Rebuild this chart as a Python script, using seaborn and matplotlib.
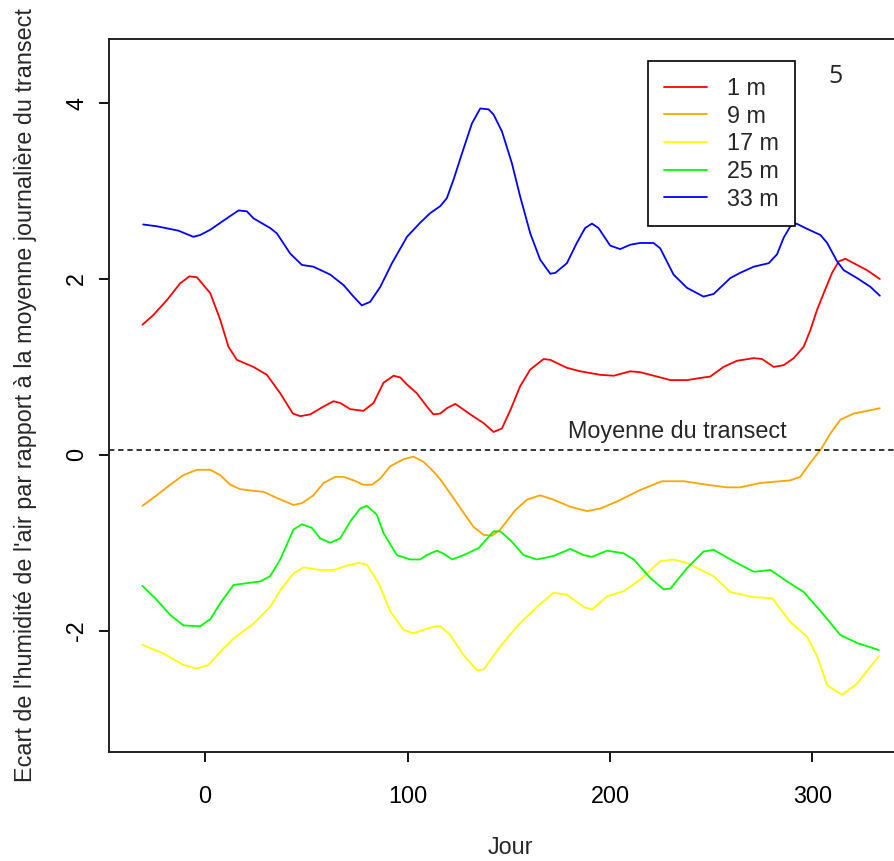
import matplotlib
matplotlib.use("Agg")
import matplotlib.pyplot as plt
import seaborn as sns
import pandas as pd

# ---- data ----
day_1m = [-31.0, -25.6, -18.9, -12.4, -7.8, -4.1, 2.5, 7.4, 11.5, 15.7, 23.9, 30.5, 37.1, 43.3, 47.0,
          51.9, 58.5, 63.4, 66.7, 71.7, 78.2, 83.2, 88.1, 93.1, 96.4, 99.7, 104.6, 109.5, 112.8, 116.1,
          119.4, 123.6, 131.0, 137.6, 142.5, 146.6, 150.8, 155.6, 160.6, 167.2, 170.5, 178.7, 185.4,
          195.3, 201.8, 210.0, 214.9, 223.3, 229.9, 238.0, 246.2, 249.5, 256.1, 262.7, 271.0, 275.1,
          280.9, 285.8, 290.8, 295.7, 299.0, 302.3, 305.6, 309.7, 313.0, 316.3, 320.4, 327.0, 333.3]
val_1m = [1.48, 1.59, 1.76, 1.95, 2.03, 2.02, 1.84, 1.54, 1.23, 1.08, 1.00, 0.91, 0.70, 0.47, 0.44,
          0.46, 0.55, 0.61, 0.59, 0.52, 0.50, 0.59, 0.82, 0.90, 0.88, 0.80, 0.70, 0.55, 0.46, 0.47,
          0.53, 0.58, 0.46, 0.36, 0.26, 0.30, 0.51, 0.78, 0.97, 1.09, 1.08, 0.99, 0.95,
          0.91, 0.90, 0.95, 0.94, 0.89, 0.85, 0.85, 0.88, 0.89, 1.00, 1.07, 1.10, 1.09,
          1.00, 1.02, 1.10, 1.23, 1.42, 1.65, 1.84, 2.07, 2.20, 2.23, 2.18, 2.10, 2.00]

day_9m = [-31.0, -23.9, -17.3, -10.7, -4.1, 2.5, 7.4, 12.4, 17.3, 23.9, 28.8, 35.4, 43.6, 47.8, 53.5,
          58.5, 64.3, 68.4, 73.3, 78.2, 82.4, 86.5, 91.4, 98.0, 102.9, 107.9, 112.8, 116.2, 121.1,
          127.7, 132.6, 137.6, 141.7, 145.8, 153.2, 159.0, 165.5, 172.1, 180.4, 188.6, 195.3, 203.5,
          214.9, 225.7, 236.4, 247.9, 257.8, 264.3, 274.2, 289.1, 294.0, 299.0, 304.4, 308.5, 313.8,
          320.4, 327.0, 333.3]
val_9m = [-0.58, -0.46, -0.34, -0.23, -0.17, -0.17, -0.23, -0.34, -0.39, -0.41, -0.42, -0.49, -0.57,
          -0.55, -0.46, -0.32, -0.25, -0.25, -0.29, -0.34, -0.34, -0.27, -0.13, -0.05, -0.02, -0.08,
          -0.19, -0.28, -0.44, -0.66, -0.82, -0.91, -0.92, -0.85, -0.63, -0.51, -0.46, -0.51, -0.59,
          -0.64, -0.61, -0.53, -0.40, -0.30, -0.30, -0.34, -0.37, -0.37, -0.32, -0.29, -0.25, -0.09,
          0.07, 0.23, 0.40, 0.47, 0.50, 0.53]

day_17m = [-31.0, -20.6, -10.7, -4.1, 1.6, 7.4, 14.0, 23.9, 32.1, 37.1, 43.6, 48.6, 56.8, 63.4, 70.0,
           75.8, 79.9, 85.7, 91.4, 98.0, 102.9, 107.9, 113.6, 116.2, 121.1, 127.7, 134.3, 137.6, 145.8,
           154.1, 163.9, 172.1, 178.7, 187.0, 191.1, 198.5, 206.8, 214.9, 224.8, 231.4, 238.0, 251.2,
           259.4, 271.0, 280.1, 289.1, 297.4, 302.3, 307.3, 314.7, 322.1, 332.8]
val_17m = [-2.16, -2.26, -2.39, -2.43, -2.39, -2.24, -2.09, -1.92, -1.73, -1.54, -1.35, -1.28, -1.31,
           -1.31, -1.26, -1.23, -1.25, -1.46, -1.78, -1.99, -2.03, -1.99, -1.95, -1.95, -2.05, -2.28,
           -2.45, -2.44, -2.18, -1.95, -1.73, -1.57, -1.59, -1.73, -1.76, -1.61, -1.55, -1.42, -1.21,
           -1.19, -1.23, -1.38, -1.56, -1.62, -1.63, -1.90, -2.07, -2.29, -2.62, -2.73, -2.60, -2.29]

day_25m = [-31.0, -23.9, -17.3, -10.7, -2.5, 2.5, 7.4, 14.0, 20.6, 27.2, 32.1, 37.1, 43.6, 47.8, 52.7,
           56.8, 61.8, 66.7, 71.6, 76.6, 79.9, 84.8, 88.1, 94.7, 101.3, 106.2, 109.5, 114.4, 117.5,
           122.0, 127.7, 135.1, 142.5, 145.8, 150.8, 157.3, 163.9, 172.1, 180.4, 187.0, 191.1, 198.5,
           206.8, 211.7, 219.9, 226.5, 229.9, 238.0, 246.2, 251.2, 261.1, 271.0, 279.3, 287.5, 295.7,
           305.6, 313.8, 322.1, 332.8]
val_25m = [-1.49, -1.65, -1.82, -1.94, -1.95, -1.87, -1.69, -1.48, -1.46, -1.44, -1.38, -1.19, -0.85,
           -0.79, -0.83, -0.95, -1.00, -0.95, -0.76, -0.61, -0.58, -0.68, -0.89, -1.14, -1.19, -1.19,
           -1.14, -1.09, -1.12, -1.19, -1.14, -1.06, -0.87, -0.87, -0.97, -1.14, -1.19, -1.15, -1.07,
           -1.14, -1.16, -1.09, -1.12, -1.19, -1.40, -1.53, -1.52, -1.29, -1.10, -1.08, -1.21, -1.33,
           -1.31, -1.44, -1.56, -1.82, -2.05, -2.14, -2.22]

day_33m = [-30.6, -23.9, -13.2, -5.8, -2.5, 2.5, 10.7, 16.5, 20.6, 23.9, 32.1, 35.4, 42.0, 47.8, 53.5,
           61.8, 68.4, 73.3, 77.4, 81.5, 86.5, 92.3, 99.7, 106.2, 111.2, 116.2, 119.4, 122.7, 126.9,
           131.8, 135.9, 140.0, 142.5, 146.6, 151.5, 155.6, 160.6, 165.5, 170.5, 173.0, 178.7, 183.6,
           187.7, 191.1, 194.3, 200.1, 205.0, 210.0, 214.9, 221.5, 224.8, 231.4, 238.0, 246.2, 251.2,
           259.4, 264.3, 271.0, 278.4, 282.5, 285.8, 289.1, 292.1, 297.4, 304.0, 307.3, 312.2, 315.5,
           322.1, 328.7, 333.3]
val_33m = [2.62, 2.60, 2.55, 2.48, 2.50, 2.56, 2.69, 2.78, 2.77, 2.69, 2.58, 2.52, 2.29, 2.16, 2.14,
           2.05, 1.93, 1.80, 1.70, 1.74, 1.91, 2.18, 2.48, 2.64, 2.75, 2.83, 2.92, 3.13, 3.43,
           3.77, 3.94, 3.93, 3.87, 3.68, 3.32, 2.94, 2.52, 2.22, 2.06, 2.07, 2.18, 2.41,
           2.58, 2.63, 2.58, 2.38, 2.34, 2.39, 2.41, 2.41, 2.35, 2.05, 1.90, 1.80, 1.83,
           2.01, 2.07, 2.14, 2.18, 2.28, 2.47, 2.60, 2.63, 2.57, 2.50, 2.41, 2.20, 2.10,
           2.01, 1.91, 1.81]

series_labels = ["1 m", "9 m", "17 m", "25 m", "33 m"]
series_colors = ["#FF0000", "#FFA500", "#FFFF00", "#00FF00", "#0000FF"]
mean_level = 0.05
xticks = [0, 100, 200, 300]
yticks = [-2, 0, 2, 4]

# ---- style ----
sns.set_style("white")
plt.rcParams["font.family"] = ["Liberation Sans", "DejaVu Sans"]
FS = 16.8

W, H = 894, 861
fig = plt.figure(figsize=(W / 100, H / 100), dpi=100)
ax = fig.add_axes([109 / W, 1 - 752 / H, 802 / W, 713 / H])

days = [day_1m, day_9m, day_17m, day_25m, day_33m]
vals = [val_1m, val_9m, val_17m, val_25m, val_33m]
for d, v, lab, col in zip(days, vals, series_labels, series_colors):
    df = pd.DataFrame({"Jour": d, "val": v})
    sns.lineplot(data=df, x="Jour", y="val", color=col, lw=1.3, label=lab, ax=ax)

ax.axhline(mean_level, color="black", lw=1.1, ls=(0, (3.5, 2.5)))
ax.text(179.4, 0.19, "Moyenne du transect", fontsize=FS, ha="left", va="baseline")
ax.text(311.5, 4.23, "5", fontsize=18, ha="center", va="baseline", family=["Open Sans", "DejaVu Sans"])

ax.set_xlim(-47.5, 348.7)
ax.set_ylim(-3.38, 4.73)
ax.set_xticks(xticks)
ax.set_yticks(yticks)
ax.set_xticklabels([str(t) for t in xticks], fontsize=FS)
ax.set_yticklabels([str(t) for t in yticks], fontsize=FS, rotation=90, va="center")
ax.tick_params(axis="x", direction="out", length=7, width=1.3, pad=16.5, colors="black", bottom=True)
ax.tick_params(axis="y", direction="out", length=7, width=1.3, pad=8, colors="black", left=True)

for s in ["left", "bottom", "top", "right"]:
    ax.spines[s].set_color("#222222")
    ax.spines[s].set_linewidth(1.4)

ax.set_xlabel("Jour", fontsize=FS)
ax.set_ylabel("Ecart de l'humidité de l'air par rapport à la moyenne journalière du transect", fontsize=FS)
ax.xaxis.set_label_coords(0.5, (752 - 836) / 713)
ax.yaxis.set_label_coords((37 - 109) / 802, 0.5)

leg = ax.legend(loc="upper left", bbox_to_anchor=(648 / W, 1 - 61 / H), bbox_transform=fig.transFigure,
                frameon=True, fancybox=False, fontsize=FS, handlelength=1.85, handletextpad=0.85,
                labelspacing=0.2, borderpad=0.68, borderaxespad=0)
leg.get_frame().set_edgecolor("black")
leg.get_frame().set_linewidth(1.2)
leg.get_frame().set_alpha(1)

fig.savefig("out.png", dpi=100)
